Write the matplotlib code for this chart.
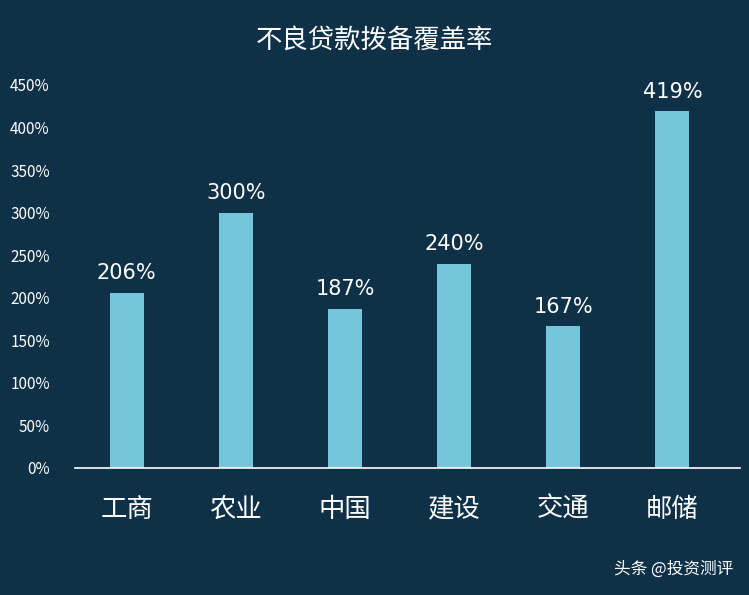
import matplotlib
matplotlib.use("Agg")
import matplotlib.pyplot as plt

plt.rcParams['font.family'] = ['Noto Sans CJK SC', 'DejaVu Sans']

categories = ['工商', '农业', '中国', '建设', '交通', '邮储']
values = [206, 300, 187, 240, 167, 419]
yticks = [0, 50, 100, 150, 200, 250, 300, 350, 400, 450]

bg = '#0e3148'
bar_c = '#74c7da'
fig = plt.figure(figsize=(7.49, 5.95), dpi=100, facecolor=bg)
ax = fig.add_axes([72/749, 127/595, 655/749, 383/595], facecolor=bg)
x = range(len(categories))
bars = ax.bar(x, values, width=0.31, color=bar_c)
for xi, v in zip(x, values):
    ax.text(xi, v + 11, f'{v}%', ha='center', va='bottom', color='white', fontsize=15,
            family=['DejaVu Sans'])
ax.set_xlim(-0.5, 5.5)
ax.set_ylim(0, 450)
ax.set_yticks(yticks)
ax.set_yticklabels([f'{t}%' for t in yticks], color='white', fontsize=11)
ax.set_xticks(list(x))
ax.set_xticklabels(categories, color='white', fontsize=19)
ax.tick_params(axis='both', length=0)
ax.tick_params(axis='x', pad=20)
ax.tick_params(axis='y', pad=16)
for s in ['top', 'right', 'left']:
    ax.spines[s].set_visible(False)
ax.spines['bottom'].set_color('white')
ax.spines['bottom'].set_linewidth(1.2)
ax.spines['bottom'].set_bounds(-0.47, 5.62)
fig.text(0.5, 1 - 40/595, '不良贷款拨备覆盖率', ha='center', va='center', color='white', fontsize=19)
fig.text(1 - 16/749, 26/595, '头条 @投资测评', ha='right', va='center', color='white', fontsize=12)
fig.savefig('out.png', dpi=100, facecolor=bg)
